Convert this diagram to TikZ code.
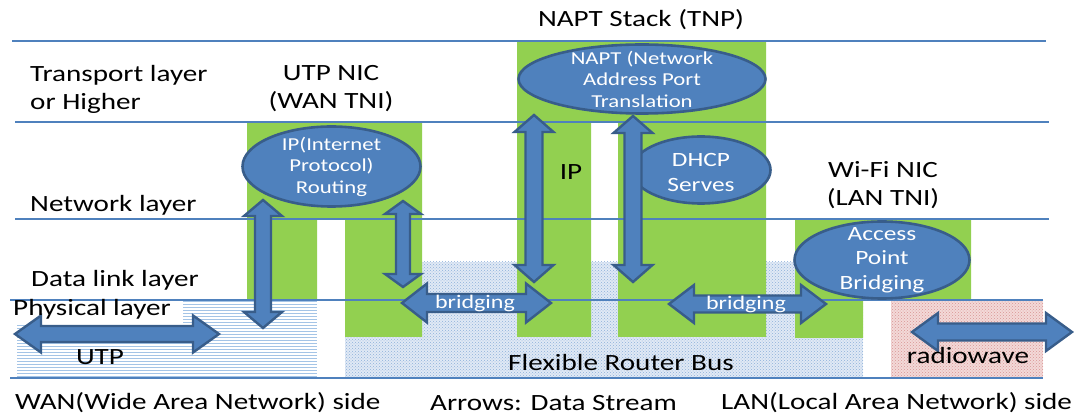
\documentclass[tikz,border=0pt]{standalone}
\usepackage{fontspec}
\setmainfont{Carlito}[FakeStretch=1.25]
\usetikzlibrary{shapes.geometric,patterns}

\definecolor{layerline}{HTML}{4F81BD}
\definecolor{stackgreen}{HTML}{92D050}
\definecolor{ovalfill}{HTML}{4F81BD}
\definecolor{ovaledge}{HTML}{385D8A}
\definecolor{busbg}{HTML}{E0E9F5}
\definecolor{busdot}{HTML}{8EB0DA}
\definecolor{utpstripe}{HTML}{A4C4E6}
\definecolor{radiobg}{HTML}{F3D9D8}
\definecolor{radiodot}{HTML}{D99594}

\tikzset{
  layer/.style={draw=layerline, line width=1.8},
  stack/.style={fill=stackgreen},
  oval/.style={ellipse, draw=ovaledge, line width=2.6, fill=ovalfill, inner sep=0},
  ovaltext/.style={text=white, align=center, inner sep=0, font=\fontsize{18.2}{21.5}\selectfont},
  label/.style={inner sep=0, align=center, font=\fontsize{23.3}{28}\selectfont},
  leftlabel/.style={label, anchor=west, align=left},
  fatarrow/.style={fill=ovalfill, draw=ovaledge, line width=2.4, line join=miter},
  arrowtext/.style={text=white, inner sep=0, font=\fontsize{19.2}{22}\selectfont},
}

% block double arrows: horizontal {left tip x}{right tip x}{y}{shaft half}{head half}{head length}
\newcommand\blockharrow[6]{%
  \draw[fatarrow] (#1,#3) -- ({#1+#6},{#3-#5}) -- ({#1+#6},{#3-#4}) -- ({#2-#6},{#3-#4})
    -- ({#2-#6},{#3-#5}) -- (#2,#3) -- ({#2-#6},{#3+#5}) -- ({#2-#6},{#3+#4})
    -- ({#1+#6},{#3+#4}) -- ({#1+#6},{#3+#5}) -- cycle;}
% vertical {x}{top tip y}{bottom tip y}{shaft half}{head half}{head length}
\newcommand\blockvarrow[6]{%
  \draw[fatarrow] (#1,#2) -- ({#1+#5},{#2+#6}) -- ({#1+#4},{#2+#6}) -- ({#1+#4},{#3-#6})
    -- ({#1+#5},{#3-#6}) -- (#1,#3) -- ({#1-#5},{#3-#6}) -- ({#1-#4},{#3-#6})
    -- ({#1-#4},{#2+#6}) -- ({#1-#5},{#2+#6}) -- cycle;}

\begin{document}
\begin{tikzpicture}[x=1pt,y=-1pt]
\useasboundingbox (0,0) rectangle (1074,419);

% flexible router bus (dotted)
\path[fill=busbg, postaction={pattern=crosshatch dots, pattern color=busdot}]
  (345,262) rectangle (863,377);
% UTP medium (striped)
\begin{scope}
  \clip (17,300) rectangle (317,377);
  \foreach \yy in {301.5,304.5,...,377} \draw[utpstripe, line width=1.6] (17,\yy) -- (317,\yy);
\end{scope}
% radio medium
\path[fill=radiobg, postaction={pattern=crosshatch dots, pattern color=radiodot}]
  (891,300) rectangle (1043,378);

% protocol stacks
\fill[stack] (247,122) -- (422,122) -- (422,337) -- (345,337) -- (345,219) -- (317,219)
  -- (317,300) -- (247,300) -- cycle;
\fill[stack] (517,41) -- (766,41) -- (766,337) -- (618,337) -- (618,122) -- (591,122)
  -- (591,337) -- (517,337) -- cycle;
\fill[stack] (795,219) -- (971,219) -- (971,300) -- (863,300) -- (863,338) -- (795,338) -- cycle;

% layer boundaries
\draw[layer] (12,41) -- (1046,41);
\draw[layer] (15,122) -- (1049,122);
\draw[layer] (15,219) -- (1049,219);
\draw[layer] (10,300) -- (1043,300);
\draw[layer] (10,378) -- (1043,378);

\fill[white] (10,301.2) rectangle (183,323);

% functions
\node[oval, minimum width=178, minimum height=80] (iproute) at (331.5,166.5) {};
\node[oval, minimum width=247, minimum height=69] (napt) at (642,79) {};
\node[oval, minimum width=139, minimum height=67] (dhcp) at (701,170) {};
\node[oval, minimum width=175, minimum height=77] (ap) at (882,260) {};

\node[ovaltext] at (iproute) {IP(Internet\\Protocol)\\Routing};
\node[ovaltext] at (napt) {NAPT (Network\\Address Port\\Translation};
\node[ovaltext, font=\fontsize{20.3}{25}\selectfont] at (701,172) {DHCP\\Serves};
\node[ovaltext, font=\fontsize{20.3}{24.5}\selectfont] at (ap) {Access\\Point\\Bridging};

% data streams
\blockvarrow{263}{200}{328}{8}{19}{16}
\blockvarrow{403}{201}{287}{7}{18}{13}
\blockvarrow{534}{115}{282}{8.5}{19.5}{17}
\blockvarrow{633}{116}{282}{8.5}{19.5}{17}
\blockharrow{15}{219}{334}{8}{18.5}{26}
\blockharrow{402}{551}{303}{9}{19.5}{25}
\blockharrow{669}{826}{304}{8.5}{19}{25}
\blockharrow{912}{1072}{332}{8.5}{19}{26}

\node[arrowtext] (br1) at (475,303) {bridging};
\node[arrowtext] (br2) at (746,304) {bridging};

% labels
\node[label] (tnp) at (641,20) {NAPT Stack (TNP)};
\node[leftlabel] (transport) at (30,89) {Transport layer\\or Higher};
\node[label] (wantni) at (331,89) {UTP NIC\\(WAN TNI)};
\node[leftlabel] (network) at (30,205) {Network layer};
\node[leftlabel] (datalink) at (31,280) {Data link layer};
\node[leftlabel] (physical) at (13,309) {Physical layer};
\node[label] (utp) at (100,357) {UTP};
\node[label] (ip) at (571,172) {IP};
\node[label] (lantni) at (883,185.5) {Wi-Fi NIC\\(LAN TNI)};
\node[label] (bus) at (621,362) {Flexible Router Bus};
\node[label] (radio) at (968,355) {radiowave};
\node[leftlabel] (wan) at (15,403) {WAN(Wide Area Network) side};
\node[leftlabel] (legend) at (430,403) {Arrows: Data Stream};
\node[leftlabel] (lan) at (721,403) {LAN(Local Area Network) side};
\end{tikzpicture}
\end{document}
